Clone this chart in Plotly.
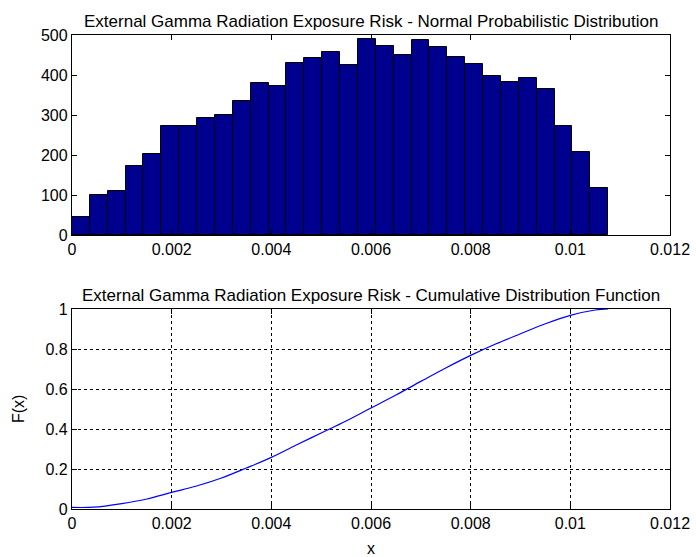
import plotly.graph_objects as go

# Histogram data (counts per bin)
hist_counts = [44, 100, 110, 172, 203, 272, 272, 292, 300, 335,
               380, 372, 431, 442, 458, 424, 490, 473, 449, 487,
               469, 445, 428, 397, 383, 393, 366, 272, 207, 117]
hist_min = 0.0
hist_max = 0.01076

# CDF points
cdf_x = [0.0, 0.00043, 0.001, 0.0015, 0.002, 0.0025, 0.003, 0.0035, 0.004,
         0.0045, 0.005, 0.0055, 0.006, 0.0065, 0.007, 0.0075, 0.008,
         0.0085, 0.009, 0.0095, 0.01, 0.0105, 0.01076]
cdf_y = [0.008, 0.009, 0.027, 0.05, 0.083, 0.115, 0.155, 0.205, 0.258,
         0.32, 0.38, 0.44, 0.505, 0.57, 0.638, 0.705, 0.768,
         0.825, 0.876, 0.926, 0.968, 0.995, 1.0]

x_ticks = [0, 0.002, 0.004, 0.006, 0.008, 0.01, 0.012]
x_tick_text = ["0", "0.002", "0.004", "0.006", "0.008", "0.01", "0.012"]
hist_y_ticks = [0, 100, 200, 300, 400, 500]
cdf_y_ticks = [0, 0.2, 0.4, 0.6, 0.8, 1]
cdf_y_text = ["0", "0.2", "0.4", "0.6", "0.8", "1"]

title_top = "External Gamma Radiation Exposure Risk - Normal Probabilistic Distribution"
title_bottom = "External Gamma Radiation Exposure Risk - Cumulative Distribution Function"

nb = len(hist_counts)
bw = (hist_max - hist_min) / nb
centers = [hist_min + bw * (i + 0.5) for i in range(nb)]

FONT = "Liberation Sans, Arial, sans-serif"
FS = 16
FT = 17

fig = go.Figure()
fig.add_trace(go.Bar(x=centers, y=hist_counts, width=bw,
                     marker=dict(color="rgb(0,0,143)", line=dict(color="black", width=1)),
                     xaxis="x", yaxis="y", showlegend=False))
fig.add_trace(go.Scatter(x=cdf_x, y=cdf_y, mode="lines", line_shape="spline",
                         line=dict(color="rgb(0,0,255)", width=1.2),
                         xaxis="x2", yaxis="y2", showlegend=False))

H = 557
W = 696
ml, mr = 72, 26
mt, mb = 35, 48
ph = H - mt - mb
pw = W - ml - mr
def py(ypx):
    return (H - mb - ypx) / ph
def px(xpx):
    return (xpx - ml) / pw

axis_common = dict(showline=True, linecolor="black", linewidth=1.3, mirror="ticks",
                   ticks="inside", ticklen=5, tickcolor="black", zeroline=False,
                   automargin=False,
                   tickfont=dict(family=FONT, size=FS, color="black"))

fig.update_layout(
    template="none",
    width=W, height=H,
    margin=dict(l=ml, r=mr, t=mt, b=mb, autoexpand=False),
    paper_bgcolor="white", plot_bgcolor="white",
    font=dict(family=FONT, size=FS, color="black"),
    bargap=0,
    xaxis=dict(domain=[0, 1], range=[0, 0.012], tickvals=x_ticks, ticktext=x_tick_text,
               showgrid=False, anchor="y", **axis_common),
    yaxis=dict(domain=[py(235), py(35)], range=[0, 500], tickvals=hist_y_ticks,
               showgrid=False, anchor="x", **axis_common),
    xaxis2=dict(domain=[0, 1], range=[0, 0.012], tickvals=x_ticks, ticktext=x_tick_text,
                showgrid=True, gridcolor="black", griddash="dot", gridwidth=1,
                anchor="y2", title=dict(text="x", font=dict(family=FONT, size=FS)),
                **axis_common),
    yaxis2=dict(domain=[py(509), py(309)], range=[0, 1], tickvals=cdf_y_ticks, ticktext=cdf_y_text,
                showgrid=True, gridcolor="black", griddash="dot", gridwidth=1,
                anchor="x2", **axis_common),
    annotations=[
        dict(text=title_top, x=0.5, xref="paper", y=py(35), yref="paper",
             yanchor="bottom", showarrow=False, yshift=2,
             font=dict(family=FONT, size=FT, color="black")),
        dict(text=title_bottom, x=0.5, xref="paper", y=py(309), yref="paper",
             yanchor="bottom", showarrow=False, yshift=2,
             font=dict(family=FONT, size=FT, color="black")),
        dict(text="F(x)", x=px(18), xref="paper", y=py(409), yref="paper",
             xanchor="center", yanchor="middle", textangle=-90, showarrow=False,
             font=dict(family=FONT, size=FS, color="black")),
    ],
)

fig.write_html("out.html")
